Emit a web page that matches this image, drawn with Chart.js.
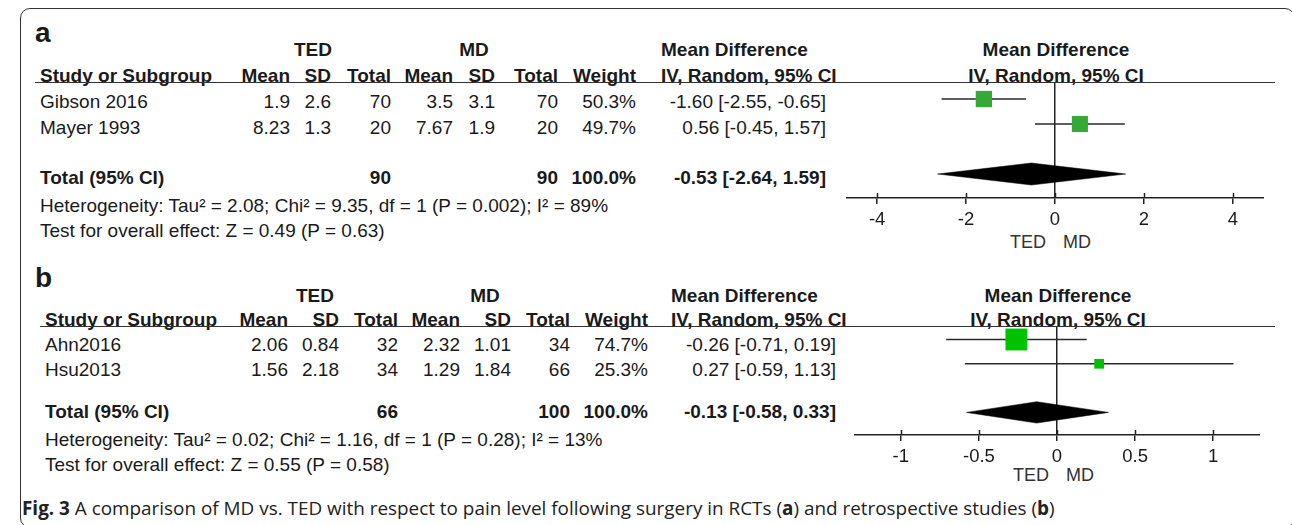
<!DOCTYPE html>
<html>
<head>
<meta charset="utf-8">
<script src="https://cdn.jsdelivr.net/npm/chart.js@4.4.1/dist/chart.umd.min.js"></script>
<style>
  html, body { margin: 0; padding: 0; background: #fff; }
  body { width: 1292px; height: 525px; position: relative; overflow: hidden;
         font-family: "Liberation Sans", Arial, sans-serif; color: #1a1a1a; }
  .frame { position: absolute; left: 20px; top: 8px; width: 1275px; height: 520px;
           border: 1.5px solid #333; border-radius: 10px; box-sizing: border-box; }
  .t { position: absolute; white-space: nowrap; font-size: 19px; line-height: 22px; }
  .bold { font-weight: bold; }
  .letter { font-weight: bold; font-size: 28px; line-height: 30px; }
  .foot { color: #333; font-size: 18px; }
  .rule { position: absolute; height: 0; border-top: 1.5px solid #333; }
  .plot { position: absolute; }
  .cap { position: absolute; left: 22px; top: 497px; font-family: "Open Sans", sans-serif;
         font-size: 18.9px; line-height: 22px; color: #222; white-space: nowrap; }
</style>
</head>
<body>
<div class="frame"></div>
<div class="cap"><b>Fig. 3</b> A comparison of MD vs. TED with respect to pain level following surgery in RCTs (<b>a</b>) and retrospective studies (<b>b</b>)</div>

<script>
// ---- Panel a: randomised trials ----
const studiesA  = ['Gibson 2016', 'Mayer 1993'];
const tedMeanA  = [1.9, 8.23];
const tedSdA    = [2.6, 1.3];
const tedNA     = [70, 20];
const mdMeanA   = [3.5, 7.67];
const mdSdA     = [3.1, 1.9];
const mdNA      = [70, 20];
const weightA   = [50.3, 49.7];
const diffA     = [-1.60, 0.56];
const lowerA    = [-2.55, -0.45];
const upperA    = [-0.65, 1.57];
const totalA    = { tedN: 90, mdN: 90, weight: 100.0, diff: -0.53, lower: -2.64, upper: 1.59 };
const hetA      = 'Heterogeneity: Tau² = 2.08; Chi² = 9.35, df = 1 (P = 0.002); I² = 89%';
const effectA   = 'Test for overall effect: Z = 0.49 (P = 0.63)';
const ticksA    = [-4, -2, 0, 2, 4];
const rangeA    = [-4.7, 4.7];

// ---- Panel b: retrospective studies ----
const studiesB  = ['Ahn2016', 'Hsu2013'];
const tedMeanB  = [2.06, 1.56];
const tedSdB    = [0.84, 2.18];
const tedNB     = [32, 34];
const mdMeanB   = [2.32, 1.29];
const mdSdB     = [1.01, 1.84];
const mdNB      = [34, 66];
const weightB   = [74.7, 25.3];
const diffB     = [-0.26, 0.27];
const lowerB    = [-0.71, -0.59];
const upperB    = [0.19, 1.13];
const totalB    = { tedN: 66, mdN: 100, weight: 100.0, diff: -0.13, lower: -0.58, upper: 0.33 };
const hetB      = 'Heterogeneity: Tau² = 0.02; Chi² = 1.16, df = 1 (P = 0.28); I² = 13%';
const effectB   = 'Test for overall effect: Z = 0.55 (P = 0.58)';
const ticksB    = [-1, -0.5, 0, 0.5, 1];
const rangeB    = [-1.3, 1.3];

// page geometry of each panel (pixels)
const geomA = {
  letter: [35, 33], groupY: 50, headY: 76, ruleY: 83, ruleX: [35, 1275],
  rowY: [102, 128], totalY: 178, hetY: 206, testY: 231, studyX: 40,
  cols: [290, 331, 391, 453, 495, 558, 636], groupX: [313, 474],
  ciHeadX: 661, ciX: 826, plotHeadX: 1056,
  plotX: [846, 1264], plotTop: 83, firstRow: 99, rowStep: 25, axisY: 198,
  footY: 242, footX: [1046, 1063], colour: '#35a935'
};
const geomB = {
  letter: [35, 278], groupY: 296, headY: 320, ruleY: 327, ruleX: [40, 1275],
  rowY: [345, 370], totalY: 412, hetY: 440, testY: 465, studyX: 45,
  cols: [288, 339, 398, 460, 511, 570, 648], groupX: [315, 485],
  ciHeadX: 671, ciX: 836, plotHeadX: 1058,
  plotX: [854, 1260], plotTop: 327, firstRow: 339.5, rowStep: 24.3, axisY: 435,
  footY: 475, footX: [1049, 1066], colour: '#00c200'
};

const AXIS_H = 44;          // height reserved for the x-axis under the plot area
const DIAMOND_HALF = 0.44;  // half height of the pooled diamond, in rows
const TOTAL_ROW = 3;        // pooled estimate sits one blank row below the studies

function put(text, x, y, align, cls) {
  const d = document.createElement('div');
  d.className = 't ' + (cls || '');
  d.textContent = text;
  d.style.left = x + 'px';
  d.style.top = y + 'px';
  const tx = align === 'right' ? '-100%' : align === 'center' ? '-50%' : '0';
  d.style.transform = 'translate(' + tx + ',-50%)';
  document.body.appendChild(d);
  return d;
}
function rule(x0, x1, y) {
  const d = document.createElement('div');
  d.className = 'rule';
  d.style.left = x0 + 'px'; d.style.width = (x1 - x0) + 'px'; d.style.top = (y - 0.75) + 'px';
  document.body.appendChild(d);
}
const ci = (m, l, u) => m.toFixed(2) + ' [' + l.toFixed(2) + ', ' + u.toFixed(2) + ']';

function table(g, p) {
  put(p.letterText, g.letter[0], g.letter[1], 'left', 'letter');
  put('TED', g.groupX[0], g.groupY, 'center', 'bold');
  put('MD', g.groupX[1], g.groupY, 'center', 'bold');
  put('Mean Difference', g.ciHeadX, g.groupY, 'left', 'bold');
  put('Mean Difference', g.plotHeadX, g.groupY, 'center', 'bold');
  put('Study or Subgroup', g.studyX, g.headY, 'left', 'bold');
  ['Mean', 'SD', 'Total', 'Mean', 'SD', 'Total', 'Weight'].forEach((h, i) =>
    put(h, g.cols[i], g.headY, 'right', 'bold'));
  put('IV, Random, 95% CI', g.ciHeadX, g.headY, 'left', 'bold');
  put('IV, Random, 95% CI', g.plotHeadX, g.headY, 'center', 'bold');
  rule(g.ruleX[0], g.ruleX[1], g.ruleY);

  p.studies.forEach((s, i) => {
    const y = g.rowY[i];
    put(s, g.studyX, y, 'left');
    const cells = [p.tedMean[i], p.tedSd[i], p.tedN[i], p.mdMean[i], p.mdSd[i], p.mdN[i]];
    cells.forEach((v, k) => put(String(v), g.cols[k], y, 'right'));
    put(p.weight[i].toFixed(1) + '%', g.cols[6], y, 'right');
    put(ci(p.diff[i], p.lower[i], p.upper[i]), g.ciX, y, 'right');
  });
  const t = p.total;
  put('Total (95% CI)', g.studyX, g.totalY, 'left', 'bold');
  put(String(t.tedN), g.cols[2], g.totalY, 'right', 'bold');
  put(String(t.mdN), g.cols[5], g.totalY, 'right', 'bold');
  put(t.weight.toFixed(1) + '%', g.cols[6], g.totalY, 'right', 'bold');
  put(ci(t.diff, t.lower, t.upper), g.ciX, g.totalY, 'right', 'bold');
  put(p.het, g.studyX, g.hetY, 'left');
  put(p.effect, g.studyX, g.testY, 'left');
  put('TED', g.footX[0], g.footY, 'right', 'foot');
  put('MD', g.footX[1], g.footY, 'left', 'foot');
}

// tick marks on a forest axis cross the axis line
const crossTicks = {
  id: 'crossTicks',
  afterDraw(chart) {
    const s = chart.scales.x, ctx = chart.ctx, y = chart.chartArea.bottom;
    ctx.save();
    ctx.strokeStyle = '#222'; ctx.lineWidth = 1.5;
    s.ticks.forEach(t => {
      const x = Math.round(s.getPixelForValue(t.value)) + 0.5;
      ctx.beginPath(); ctx.moveTo(x, y - 5); ctx.lineTo(x, y); ctx.stroke();
    });
    ctx.restore();
  }
};

function forest(g, p) {
  const box = document.createElement('div');
  box.className = 'plot';
  const h = g.axisY - g.plotTop + AXIS_H;
  box.style.left = g.plotX[0] + 'px'; box.style.top = g.plotTop + 'px';
  box.style.width = (g.plotX[1] - g.plotX[0]) + 'px'; box.style.height = h + 'px';
  const cv = document.createElement('canvas');
  box.appendChild(cv);
  document.body.appendChild(box);

  const side = w => 0.86 * Math.pow(w, 0.75);   // marker side grows with study weight
  const datasets = [];
  datasets.push({
    type: 'scatter', order: 0, clip: false,
    data: p.diff.map((d, i) => ({ x: d, y: i })),
    pointStyle: 'rect', backgroundColor: g.colour, borderWidth: 0,
    pointRadius: p.weight.map(w => side(w) / Math.SQRT2)
  });
  p.diff.forEach((d, i) => datasets.push({
    type: 'line', order: 1,
    data: [{ x: p.lower[i], y: i }, { x: p.upper[i], y: i }],
    borderColor: '#2a2a2a', borderWidth: 1.5, pointRadius: 0, fill: false
  }));
  const t = p.total, r = TOTAL_ROW;
  datasets.push({
    type: 'line', order: 1,
    data: [{ x: t.lower, y: r }, { x: t.diff, y: r - DIAMOND_HALF }, { x: t.upper, y: r },
           { x: t.diff, y: r + DIAMOND_HALF }, { x: t.lower, y: r }],
    borderColor: '#000', borderWidth: 0.5, backgroundColor: '#000',
    pointRadius: 0, fill: 'shape', tension: 0
  });

  new Chart(cv, {
    type: 'scatter',
    data: { datasets },
    options: {
      responsive: true, maintainAspectRatio: false, animation: false, events: [],
      layout: { padding: 0, autoPadding: false },
      plugins: { legend: { display: false }, tooltip: { enabled: false } },
      scales: {
        x: {
          type: 'linear', min: p.range[0], max: p.range[1],
          afterBuildTicks: s => { s.ticks = p.ticks.map(v => ({ value: v })); },
          afterFit: s => { s.height = AXIS_H; s.paddingLeft = 0; s.paddingRight = 0; },
          grid: {
            color: c => (c.tick && c.tick.value === 0) ? '#222' : 'rgba(0,0,0,0)',
            lineWidth: 1.5, drawTicks: true, tickLength: 6, tickColor: '#222', tickWidth: 1.5
          },
          border: { display: true, color: '#222', width: 1.5 },
          ticks: {
            color: '#1a1a1a', padding: 5, maxRotation: 0, autoSkip: false,
            font: { family: '"Liberation Sans", Arial, sans-serif', size: 18.5 },
            callback: v => String(v)
          }
        },
        y: {
          type: 'linear', display: false, reverse: true,
          min: -(g.firstRow - g.plotTop) / g.rowStep,
          max: (g.axisY - g.firstRow) / g.rowStep
        }
      }
    },
    plugins: [crossTicks]
  });
}

const panelA = { letterText: 'a', studies: studiesA, tedMean: tedMeanA, tedSd: tedSdA, tedN: tedNA,
  mdMean: mdMeanA, mdSd: mdSdA, mdN: mdNA, weight: weightA, diff: diffA, lower: lowerA, upper: upperA,
  total: totalA, het: hetA, effect: effectA, ticks: ticksA, range: rangeA };
const panelB = { letterText: 'b', studies: studiesB, tedMean: tedMeanB, tedSd: tedSdB, tedN: tedNB,
  mdMean: mdMeanB, mdSd: mdSdB, mdN: mdNB, weight: weightB, diff: diffB, lower: lowerB, upper: upperB,
  total: totalB, het: hetB, effect: effectB, ticks: ticksB, range: rangeB };

table(geomA, panelA);
table(geomB, panelB);
forest(geomA, panelA);
forest(geomB, panelB);
</script>
</body>
</html>
